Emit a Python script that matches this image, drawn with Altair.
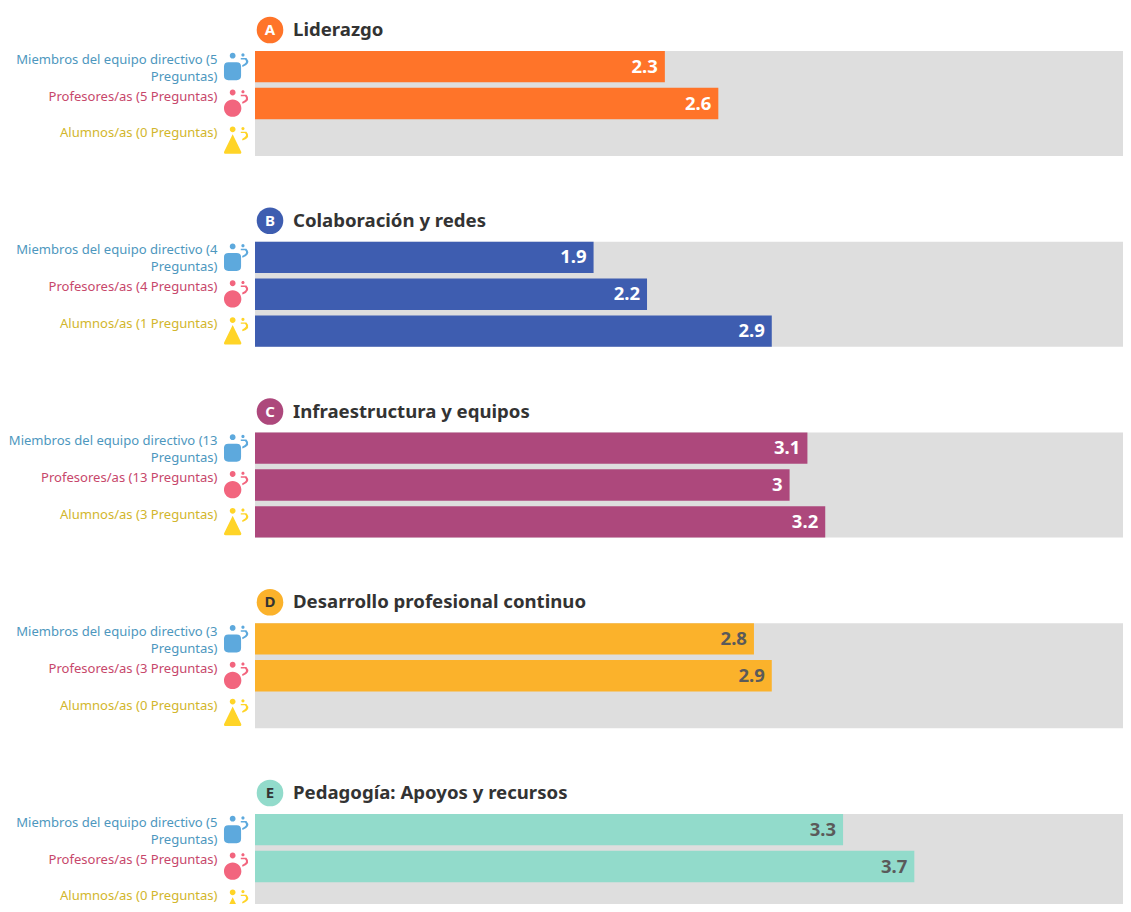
import altair as alt
import pandas as pd

LETTERS = ["A", "B", "C", "D", "E"]
TITLES = ["Liderazgo", "Colaboración y redes", "Infraestructura y equipos",
          "Desarrollo profesional continuo", "Pedagogía: Apoyos y recursos"]
COLORS = ["#FF7429", "#3E5DB0", "#AD487C", "#FBB22B", "#92DBCB"]
VALUE_COLORS = ["#FFFFFF", "#FFFFFF", "#FFFFFF", "#5A5A5A", "#5A5A5A"]
BADGE_TEXT = ["#FFFFFF", "#FFFFFF", "#FFFFFF", "#333333", "#333333"]
ROLES = ["Miembros", "Profesores", "Alumnos"]
ROLE_COLORS = ["#5DA9DD", "#F2657E", "#FFD427"]
DIRECTIVOS = [5, 4, 13, 3, 5]
PROFESORES = [5, 4, 13, 3, 5]
ALUMNOS = [0, 1, 3, 0, 0]
V_DIRECTIVOS = [2.3, 1.9, 3.1, 2.8, 3.3]
V_PROFESORES = [2.6, 2.2, 3.0, 2.9, 3.7]
V_ALUMNOS = [None, 2.9, 3.2, None, None]

GUTTER, BAR_W, FULL_H, LAST_H, GAP = 32, 868, 105, 90, 85.75
X_MAX = 4.871
FONT = "Noto Sans"


def circle(cx, cy, r):
    return (f"M{cx - r},{cy}a{r},{r} 0 1,0 {2 * r},0a{r},{r} 0 1,0 {-2 * r},0Z")


HEADS = circle(-0.23, -0.76, 0.2) + circle(0.48, -0.81, 0.11)
ARC = "M0.33,-0.6L0.72,-0.6Q1.08,-0.22 0.45,0.02L0.42,-0.1Q0.84,-0.3 0.62,-0.5L0.33,-0.5Z"
BODY_SQUARE = ("M-0.53,-0.31L0.05,-0.31Q0.35,-0.31 0.35,-0.01L0.35,0.63Q0.35,0.93 0.05,0.93"
               "L-0.53,0.93Q-0.83,0.93 -0.83,0.63L-0.83,-0.01Q-0.83,-0.31 -0.53,-0.31Z")
BODY_CIRCLE = circle(-0.23, 0.32, 0.6)
BODY_TRIANGLE = "M-0.23,-0.42L0.36,0.78Q0.4,0.92 0.25,0.92L-0.71,0.92Q-0.86,0.92 -0.82,0.78Z"
ICONS = [HEADS + ARC + BODY_SQUARE, HEADS + ARC + BODY_CIRCLE, HEADS + ARC + BODY_TRIANGLE]

label_color = ("indexof(datum.label, 'Miembros') >= 0 ? '#4D97BE' : "
               "indexof(datum.label, 'Profesores') >= 0 ? '#C7476B' : '#D2B62C'")


def panel(i):
    h = LAST_H if i == 4 else FULL_H
    labels = [f"Miembros del equipo directivo ({DIRECTIVOS[i]}|Preguntas)",
              f"Profesores/as ({PROFESORES[i]} Preguntas)",
              f"Alumnos/as ({ALUMNOS[i]} Preguntas)"]
    df = pd.DataFrame({
        "label": labels,
        "role": ROLES,
        "value": [V_DIRECTIVOS[i], V_PROFESORES[i], V_ALUMNOS[i]],
    })
    y = alt.Y("label:N", title=None,
              scale=alt.Scale(domain=labels, paddingInner=0.149, paddingOuter=0,
                              range=[0, FULL_H]),
              axis=alt.Axis(ticks=False, domain=False, grid=False, labelPadding=6,
                            labelFont=FONT, labelFontSize=13.05, labelLimit=400,
                            labelBaseline="top", labelOffset=-13, labelLineHeight=17,
                            labelExpr="split(datum.label, '|')",
                            labelColor=alt.expr(label_color)))
    x_scale = alt.Scale(domain=[0, X_MAX], nice=False, zero=True,
                        range=[GUTTER, GUTTER + BAR_W])
    x = alt.X("value:Q", title=None, axis=None, scale=x_scale)
    back = alt.Chart(pd.DataFrame({"a": [0], "b": [X_MAX]})).mark_rect(color="#DEDEDE").encode(
        x=alt.X("a:Q", title=None, axis=None, scale=x_scale), x2="b:Q",
        y=alt.value(0), y2=alt.value(h))
    bars = alt.Chart(df).mark_bar(color=COLORS[i]).encode(x=x, y=y)
    vals = alt.Chart(df).mark_text(align="right", dx=-7, font=FONT, fontSize=18.5,
                                   fontWeight="bold", color=VALUE_COLORS[i]).encode(
        x=x, y=y, text=alt.Text("value:Q", format=".2~g"))
    icons = alt.Chart(df).mark_point(filled=True, opacity=1, size=840, clip=True).encode(
        x=alt.value(GUTTER - 19), y=y,
        shape=alt.Shape("role:N", legend=None, scale=alt.Scale(domain=ROLES, range=ICONS)),
        color=alt.Color("role:N", legend=None, scale=alt.Scale(domain=ROLES, range=ROLE_COLORS)))
    head = pd.DataFrame({"letter": [LETTERS[i]], "title": [TITLES[i]]})
    badge = alt.Chart(head).mark_point(filled=True, opacity=1, shape="circle", size=707,
                                       color=COLORS[i]).encode(
        x=alt.value(GUTTER + 15), y=alt.value(-21))
    letter = alt.Chart(head).mark_text(font=FONT, fontSize=15, fontWeight="bold",
                                       color=BADGE_TEXT[i]).encode(
        x=alt.value(GUTTER + 15), y=alt.value(-21), text="letter:N")
    title = alt.Chart(head).mark_text(align="left", font=FONT, fontSize=18.6, fontWeight="bold",
                                      color="#333333").encode(
        x=alt.value(GUTTER + 38), y=alt.value(-21), text="title:N")
    return alt.layer(back, bars, vals, icons, badge, letter, title).properties(
        width=GUTTER + BAR_W, height=h)


chart = alt.vconcat(*[panel(i) for i in range(5)], spacing=GAP, bounds="flush").resolve_scale(
    y="independent", shape="independent", color="independent"
).configure_view(stroke=None).properties(
    background="white",
    padding={"left": 0, "top": 8, "right": 0, "bottom": 0},
)

chart.save("out.html", embed_options={"renderer": "svg", "actions": False})
